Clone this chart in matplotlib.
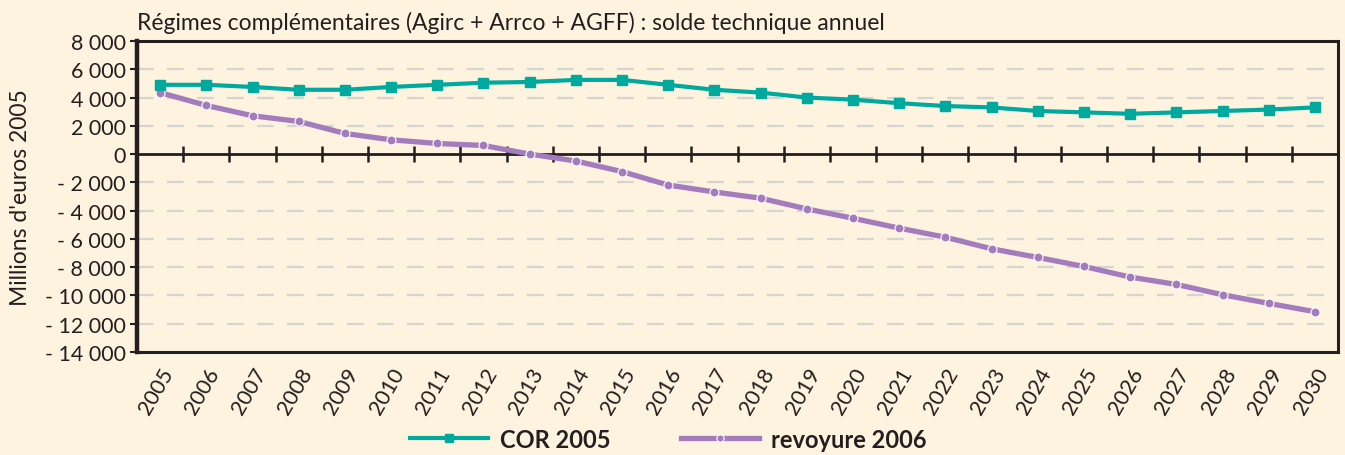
import matplotlib
matplotlib.use("Agg")
import matplotlib.pyplot as plt
import numpy as np

years = [str(y) for y in range(2005, 2031)]
cor_2005 = [4900, 4900, 4750, 4550, 4550, 4750, 4900, 5050, 5100, 5250, 5250,
            4900, 4550, 4350, 4000, 3850, 3600, 3400, 3300, 3050, 2950, 2850,
            2950, 3050, 3150, 3300]
revoyure_2006 = [4350, 3440, 2710, 2310, 1460, 1010, 750, 610, 0, -490, -1240,
                 -2190, -2680, -3120, -3880, -4540, -5240, -5880, -6700, -7310,
                 -7950, -8700, -9220, -9950, -10560, -11150]
y_ticks = [8000, 6000, 4000, 2000, 0, -2000, -4000, -6000, -8000, -10000, -12000, -14000]
y_labels = ["8 000", "6 000", "4 000", "2 000", "0", "- 2 000", "- 4 000", "- 6 000",
            "- 8 000", "- 10 000", "- 12 000", "- 14 000"]
title = "Régimes complémentaires (Agirc + Arrco + AGFF) : solde technique annuel"

BG = "#FDF3DF"
TEAL = "#00A99D"
PURPLE = "#A47BBC"
DARK = "#231F20"
plt.rcParams['font.family'] = ['Lato', 'DejaVu Sans']

fig = plt.figure(figsize=(13.45, 4.56), dpi=100, facecolor=BG)
ax = fig.add_axes([0.1019, 0.2259, 0.8929, 0.682])
ax.set_facecolor(BG)

x = np.arange(len(years))
ax.set_xlim(-0.5, len(years) - 0.5)
ymin, ymax = -14000, 8000
ax.set_ylim(ymin, ymax)

for v in y_ticks:
    if v not in (0, ymax, ymin):
        ax.axhline(v, color="#D4D4D0", lw=1.6, dashes=(7.5, 6), zorder=1)

ax.axhline(0, color=DARK, lw=2, zorder=2)

ax.plot(x, cor_2005, color=TEAL, lw=3, marker="s", ms=7, mfc=TEAL, mec=TEAL,
        label="COR 2005", zorder=4)
ax.plot(x, revoyure_2006, color=PURPLE, lw=3.8, marker="o", ms=6.5, mfc=PURPLE,
        mec="white", mew=0.8, label="revoyure 2006", zorder=3)

ax.set_yticks(y_ticks)
ax.set_yticklabels(y_labels, fontsize=15.5, color=DARK)
ax.tick_params(axis="y", direction="out", length=5, width=1.5, color=DARK, pad=3)
ax.set_xticks(x)
ax.set_xticklabels(years, rotation=60, ha="right", va="top", rotation_mode="anchor",
                   fontsize=15.5, color=DARK)
ax.tick_params(axis="x", length=0, pad=9)

for s in ["top", "right", "bottom"]:
    ax.spines[s].set_linewidth(2.2)
    ax.spines[s].set_color(DARK)
ax.spines["left"].set_linewidth(3.2)
ax.spines["left"].set_color(DARK)

# category boundary ticks on the zero line
zero_frac = (0 - ymin) / (ymax - ymin)
sec = ax.secondary_xaxis(zero_frac)
sec.set_xticks(np.arange(len(years) - 1) + 0.5)
sec.set_xticklabels([])
sec.tick_params(direction="inout", length=11, width=1.8, color=DARK)
for s in sec.spines.values():
    s.set_visible(False)

ax.set_ylabel("Millions d'euros 2005", fontsize=16.5, color=DARK)
ax.yaxis.set_label_coords(-0.088, 0.5)

fig.text(0.1019, 0.925, title, fontsize=16.5, color=DARK, ha="left", va="bottom")

leg = fig.legend(loc="center", bbox_to_anchor=(0.497, 0.035), ncol=2, frameon=False,
                 handlelength=3.3, columnspacing=3.0, handletextpad=0.5,
                 prop={"weight": "bold", "size": 17}, markerscale=0.8)
for t in leg.get_texts():
    t.set_color(DARK)

fig.savefig("out.png", dpi=100, facecolor=BG)
